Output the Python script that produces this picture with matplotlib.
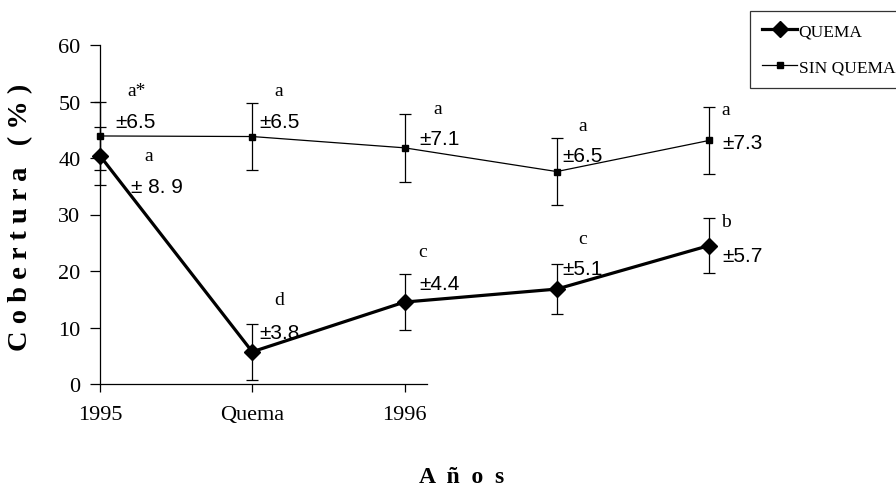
import matplotlib
matplotlib.use("Agg")
import matplotlib.pyplot as plt

# ---- data ----
categories = ["1995", "Quema", "1996", "", ""]
quema = [40.4, 5.7, 14.5, 16.8, 24.5]
quema_err = [5.1, 5.0, 5.0, 4.4, 4.9]
sin_quema = [43.9, 43.8, 41.8, 37.6, 43.1]
sin_quema_err = [6.0, 6.0, 6.0, 6.0, 6.0]
quema_letters = ["a", "d", "c", "c", "b"]
quema_pm = ["\u00b1 8. 9", "\u00b13.8", "\u00b14.4", "\u00b15.1", "\u00b15.7"]
sin_letters = ["a*", "a", "a", "a", "a"]
sin_pm = ["\u00b16.5", "\u00b16.5", "\u00b17.1", "\u00b16.5", "\u00b17.3"]
yticks = [0, 10, 20, 30, 40, 50, 60]

# label positions (data coords), style only
quema_letter_pos = [(0.32, 40.5), (1.176, 15.0), (2.12, 23.4), (3.17, 25.8), (4.11, 28.7)]
quema_pm_pos = [(0.204, 35.0), (1.044, 9.2), (2.095, 17.7), (3.035, 20.4), (4.085, 22.8)]
sin_letter_pos = [(0.243, 51.9), (1.176, 51.9), (2.22, 48.8), (3.17, 45.7), (4.11, 48.5)]
sin_pm_pos = [(0.099, 46.5), (1.05, 46.4), (2.095, 43.4), (3.035, 40.4), (4.09, 42.8)]

SERIF = "Liberation Serif"
SANS = "Liberation Sans"

fig = plt.figure(figsize=(8.96, 4.89), dpi=100)
W, H = 896, 489
x0, y0 = 100, 385
unit = 152.25
xmax = 4.3
ax = fig.add_axes([x0 / W, (H - y0) / H, xmax * unit / W, (385 - 46) / H])

xs = list(range(len(quema)))

ax.errorbar(xs, quema, yerr=quema_err, fmt="none", ecolor="black",
            capsize=4, elinewidth=0.9, capthick=0.9, clip_on=False, zorder=2)
ax.errorbar(xs, sin_quema, yerr=sin_quema_err, fmt="none", ecolor="black",
            capsize=4, elinewidth=0.9, capthick=0.9, clip_on=False, zorder=2)
ax.plot(xs, quema, color="black", lw=2.3, marker="D", markersize=8.5,
        label="QUEMA", clip_on=False, zorder=3)
ax.plot(xs, sin_quema, color="black", lw=0.9, marker="s", markersize=4,
        label="SIN QUEMA", clip_on=False, zorder=3)

for t, (px, py) in zip(quema_letters, quema_letter_pos):
    ax.text(px, py, t, family=SERIF, fontsize=14, ha="center", va="center")
for t, (px, py) in zip(sin_letters, sin_letter_pos):
    ax.text(px, py, t, family=SERIF, fontsize=14, ha="center", va="center")
for t, (px, py) in zip(quema_pm, quema_pm_pos):
    ax.text(px, py, t, family=SANS, fontsize=15, ha="left", va="center")
for t, (px, py) in zip(sin_pm, sin_pm_pos):
    ax.text(px, py, t, family=SANS, fontsize=15, ha="left", va="center")

ax.set_xlim(0, xmax)
ax.set_ylim(0, 60)
ax.set_xticks(xs[:3])
ax.set_xticklabels(categories[:3], family=SERIF, fontsize=16)
ax.set_yticks(yticks)
ax.set_yticklabels([str(v) for v in yticks], family=SERIF, fontsize=16)
ax.tick_params(axis="x", direction="out", length=6, width=0.9, pad=9)
ax.tick_params(axis="y", direction="out", length=7, width=0.9, pad=7)

for s in ["top", "right"]:
    ax.spines[s].set_visible(False)
ax.spines["bottom"].set_bounds(0, 2.15)
ax.spines["left"].set_linewidth(0.9)
ax.spines["bottom"].set_linewidth(0.9)
ax.patch.set_alpha(0)

fig.text(21 / W, 1 - 217 / H, "C o b e r t u r a   ( % )", family=SERIF,
         fontweight="bold", fontsize=20.5, rotation=90, ha="center", va="center")
fig.text(462 / W, 1 - 478 / H, "A  ñ  o  s", family=SERIF, fontweight="bold",
         fontsize=17, ha="center", va="center")

leg = ax.legend(loc="upper left", bbox_to_anchor=(750 / W, 1 - 12 / H),
                bbox_transform=fig.transFigure, borderaxespad=0,
                prop={"family": SERIF, "size": 12.5}, frameon=True, fancybox=False,
                handlelength=2.0, labelspacing=1.15, handletextpad=0.1,
                borderpad=0.7)
leg.get_frame().set_edgecolor("black")
leg.get_frame().set_linewidth(0.9)

fig.savefig("out.png", dpi=100)
